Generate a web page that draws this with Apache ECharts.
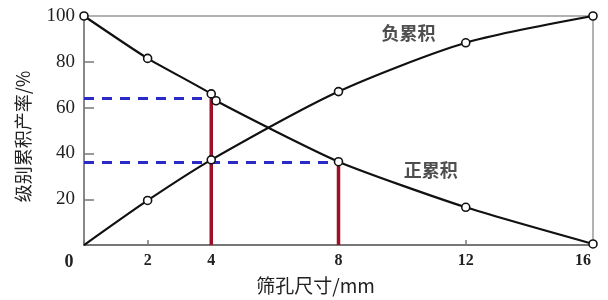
<!DOCTYPE html>
<html>
<head>
<meta charset="utf-8">
<script src="https://cdn.jsdelivr.net/npm/echarts@6/dist/echarts.min.js"></script>
<style>html,body{margin:0;padding:0;background:#fff;}#c{width:608px;height:300px;}</style>
</head>
<body>
<div id="c"></div>
<script>
// Data
const xTickLabels = [0, 2, 4, 8, 12, 16];
const yTickLabels = [20, 40, 60, 80, 100];
const negX = [0, 2, 4, 8, 12, 16];            // 负累积 (rising curve)
const negY = [0, 19.5, 37.2, 67, 88.3, 100];
const posX = [0, 2, 4, 4.15, 8, 12, 16];       // 正累积 (falling curve)
const posY = [100, 81.5, 66, 63, 36.4, 16.5, 0.5];
const guideX = [4, 8];
const guideY = [64, 36];
const curveNames = ['负累积', '正累积'];
const curveNameX = [10.2, 10.9];
const curveNameY = [92.6, 32.5];

const chart = echarts.init(document.getElementById('c'), null, {renderer: 'canvas'});

const negData = negX.map((x, i) => {
  const d = {value: [x, negY[i]]};
  if (i === 0) d.symbol = 'none';
  return d;
});
const posData = posX.map((x, i) => [x, posY[i]]);

const series = [];
guideX.forEach((gx, i) => {
  series.push({
    type: 'line', data: [[0, guideY[i]], [gx, guideY[i]]], symbol: 'none', silent: true,
    lineStyle: {color: '#2a2ac4', width: 3, type: [10, 8]}, z: 1
  });
  series.push({
    type: 'line', data: [[gx, guideY[i]], [gx, 0]], symbol: 'none', silent: true,
    lineStyle: {color: '#9e1028', width: 3.5}, z: 2
  });
});
series.push({
  type: 'line', data: negData, smooth: 0.25, symbol: 'circle', symbolSize: 8,
  itemStyle: {color: '#fff', borderColor: '#111', borderWidth: 1.6},
  lineStyle: {color: '#111', width: 2.2}, z: 5
});
series.push({
  type: 'line', data: posData, smooth: 0.2, symbol: 'circle', symbolSize: 8,
  itemStyle: {color: '#fff', borderColor: '#111', borderWidth: 1.6},
  lineStyle: {color: '#111', width: 2.2}, z: 5
});
series.push({
  type: 'scatter', symbolSize: 0, silent: true,
  data: curveNames.map((n, i) => [curveNameX[i], curveNameY[i], n]),
  label: {show: true, position: 'inside', formatter: p => p.value[2],
    fontSize: 18, color: '#222', fontFamily: 'Noto Sans CJK SC', fontWeight: 'bold'}
});

chart.setOption({
  animation: false,
  backgroundColor: '#fff',
  grid: {left: 84, right: 15, top: 16, bottom: 53, show: true, borderColor: '#999', borderWidth: 1.5},
  xAxis: {
    type: 'value', min: 0, max: 16,
    name: '筛孔尺寸/mm', nameLocation: 'middle', nameGap: 27,
    nameTextStyle: {fontSize: 19, color: '#222', fontFamily: 'Noto Sans CJK SC', padding: [0, 46, 0, 0]},
    axisLine: {show: true, lineStyle: {color: '#777', width: 2}},
    axisTick: {show: true, inside: true, length: 5, customValues: xTickLabels, lineStyle: {color: '#777', width: 1.5}},
    axisLabel: {
      customValues: xTickLabels, margin: 8, fontSize: 16, fontWeight: 'bold', color: '#222',
      fontFamily: 'Liberation Serif',
      formatter: v => v === 0 ? '{z|0}' : (v === 16 ? '{e|16}' : String(v)),
      rich: {
        z: {fontSize: 18, fontWeight: 'bold', fontFamily: 'Liberation Serif', color: '#222', padding: [0, 30, 0, 0]},
        e: {fontSize: 16, fontWeight: 'bold', fontFamily: 'Liberation Serif', color: '#222', padding: [0, 20, 0, 0]}
      }
    },
    splitLine: {show: false}
  },
  yAxis: {
    type: 'value', min: 0, max: 100,
    name: '级别累积产率/%', nameLocation: 'middle', nameGap: 52, nameRotate: 90,
    nameTextStyle: {fontSize: 18, color: '#222', fontFamily: 'Noto Sans CJK SC', padding: [0, 12, 0, 0]},
    axisLine: {show: true, lineStyle: {color: '#888', width: 2}},
    axisTick: {show: true, inside: true, length: 10, customValues: [20, 40, 60, 80], lineStyle: {color: '#777', width: 1.5}},
    axisLabel: {customValues: yTickLabels, margin: 9, fontSize: 19, color: '#222', fontFamily: 'Liberation Serif'},
    splitLine: {show: false}
  },
  series: series
});
</script>
</body>
</html>
